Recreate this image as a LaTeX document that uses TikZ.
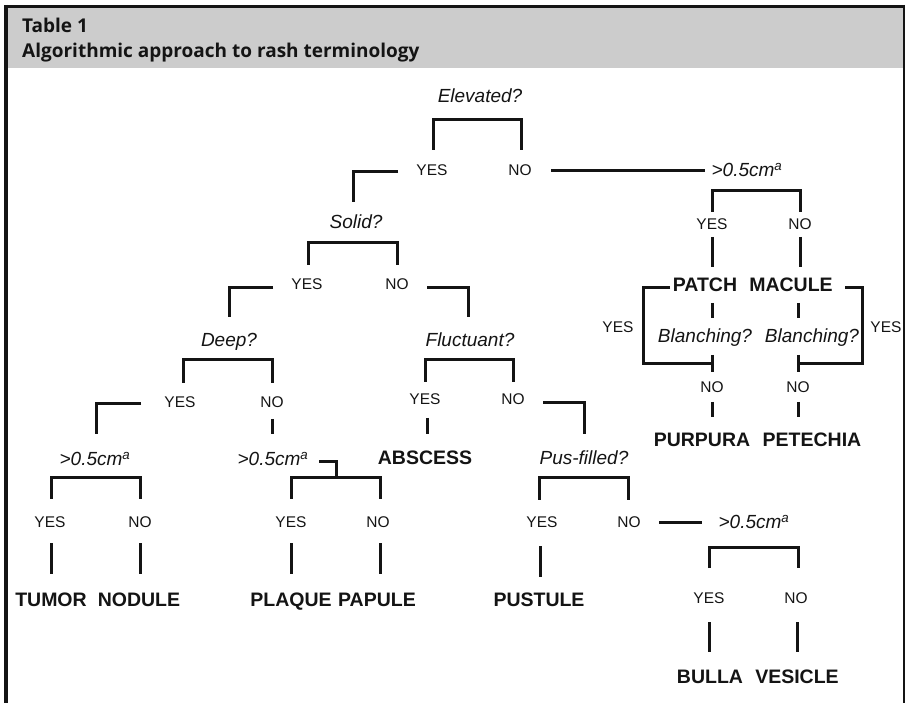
\documentclass[tikz,border=0pt]{standalone}
\usepackage{fontspec}
\setmainfont{Liberation Sans}
\newfontfamily\headfont{Open Sans}
\definecolor{headgray}{RGB}{204,204,204}
\definecolor{ink}{RGB}{20,20,20}
\begin{document}
\begin{tikzpicture}[x=1pt,y=-1pt,
  ln/.style={line width=3pt, draw=ink},
  yn/.style={font=\fontsize{15.5}{18}\selectfont, inner sep=0pt, anchor=base, text=ink},
  qq/.style={font=\fontsize{19}{22}\selectfont\itshape, inner sep=0pt, anchor=base, text=ink},
  leaf/.style={font=\fontsize{19.5}{22}\selectfont\bfseries, inner sep=0pt, anchor=base, text=ink},
  hd/.style={font=\headfont\bfseries\fontsize{19}{22}\selectfont, inner sep=0pt, anchor=base west, text=ink}]
\useasboundingbox (0,0) rectangle (906,703);
\fill[white] (0,0) rectangle (906,703);
% frame and header
\fill[headgray] (5,8) rectangle (903,68);
\draw[line width=3pt, draw=ink] (4,6.5) -- (905,6.5);
\draw[line width=4pt, draw=ink] (5.5,5) -- (5.5,703);
\draw[line width=2pt, draw=ink] (903.5,5) -- (903.5,703);
\node[hd] (t1) at (22,33) {Table 1};
\node[hd] (t2) at (22,58) {Algorithmic approach to rash terminology};
% labels
\node[qq] (qElev) at (480,103) {Elevated?};
\node[yn] (y1) at (432,176) {YES};
\node[yn] (n1) at (520,176) {NO};
\node[qq] (qSolid) at (356,229) {Solid?};
\node[yn] (y2) at (307,290) {YES};
\node[yn] (n2) at (397,290) {NO};
\node[qq] (qDeep) at (229,347) {Deep?};
\node[qq] (qFluct) at (470,347) {Fluctuant?};
\node[yn] (y3) at (180,408) {YES};
\node[yn] (n3) at (272,408) {NO};
\node[yn] (y4) at (425,405) {YES};
\node[yn] (n4) at (513,405) {NO};
\node[qq] (qS1) at (95,466) {>0.5cm\textsuperscript{a}};
\node[qq] (qS2) at (273,466) {>0.5cm\textsuperscript{a}};
\node[leaf] (abs) at (425,465) {ABSCESS};
\node[qq] (qPus) at (584,465) {Pus-filled?};
\node[yn] (y5) at (50,527) {YES};
\node[yn] (n5) at (140,527) {NO};
\node[yn] (y6) at (291,527) {YES};
\node[yn] (n6) at (378,527) {NO};
\node[yn] (y7) at (542,527) {YES};
\node[yn] (n7) at (629,527) {NO};
\node[leaf] (tumor) at (51,606) {TUMOR};
\node[leaf] (nodule) at (139,606) {NODULE};
\node[leaf] (plaque) at (291,606) {PLAQUE};
\node[leaf] (papule) at (377,606) {PAPULE};
\node[leaf] (pustule) at (539,606) {PUSTULE};
\node[qq] (qS3) at (754,529) {>0.5cm\textsuperscript{a}};
\node[yn] (y8) at (709,603) {YES};
\node[yn] (n8) at (796,603) {NO};
\node[leaf] (bulla) at (710,683) {BULLA};
\node[leaf] (vesicle) at (797,683) {VESICLE};
\node[qq] (qS4) at (747,177) {>0.5cm\textsuperscript{a}};
\node[yn] (y9) at (712,230) {YES};
\node[yn] (n9) at (800,230) {NO};
\node[leaf] (patch) at (705,292) {PATCH};
\node[leaf] (macule) at (791,292) {MACULE};
\node[qq] (bl1) at (705,343) {Blanching?};
\node[qq] (bl2) at (812,343) {Blanching?};
\node[yn] (yL) at (618,333) {YES};
\node[yn] (yR) at (886,333) {YES};
\node[yn] (nL) at (712,393) {NO};
\node[yn] (nR) at (798,393) {NO};
\node[leaf] (purpura) at (702,447) {PURPURA};
\node[leaf] (petechia) at (812,447) {PETECHIA};
% connectors
\draw[ln] (433,150) |- (521,120) -- (521,150);
\draw[ln] (398,172) -| (353,202);
\draw[ln] (308,265) |- (397,243) -- (397,265);
\draw[ln] (273,288) -| (229,317);
\draw[ln] (427,288) -| (468,317);
\draw[ln] (183,383) |- (272,360) -- (272,383);
\draw[ln] (425,382) |- (513,360) -- (513,382);
\draw[ln] (141,404) -| (96,434);
\draw[ln] (272,419) -- (272,434);
\draw[ln] (427,418) -- (427,434);
\draw[ln] (543,403) -| (584,434);
\draw[ln] (51,499) |- (140,478) -- (140,499);
\draw[ln] (51,543) -- (51,574);
\draw[ln] (140,543) -- (140,574);
\draw[ln] (319,462) -| (336,478);
\draw[ln] (291,499) |- (380,478) -- (380,499);
\draw[ln] (291,543) -- (291,574);
\draw[ln] (380,543) -- (380,574);
\draw[ln] (539,500) |- (628,478) -- (628,500);
\draw[ln] (540,546) -- (540,577);
\draw[ln] (659,523) -- (702,523);
\draw[ln] (709,568) |- (798,547) -- (798,568);
\draw[ln] (709,622) -- (709,652);
\draw[ln] (797,622) -- (797,652);
\draw[ln] (551,171) -- (705,171);
\draw[ln] (712,212) |- (800,191) -- (800,212);
\draw[ln] (712,237) -- (712,267);
\draw[ln] (800,237) -- (800,267);
\draw[ln] (712,303) -- (712,318);
\draw[ln] (798,303) -- (798,318);
\draw[ln] (670,288) -| (643,364) -- (712,364);
\draw[ln] (712,355) -- (712,372);
\draw[ln] (845,288) -| (862,364) -- (798,364);
\draw[ln] (798,355) -- (798,372);
\draw[ln] (712,402) -- (712,417);
\draw[ln] (798,402) -- (798,417);
\end{tikzpicture}
\end{document}
